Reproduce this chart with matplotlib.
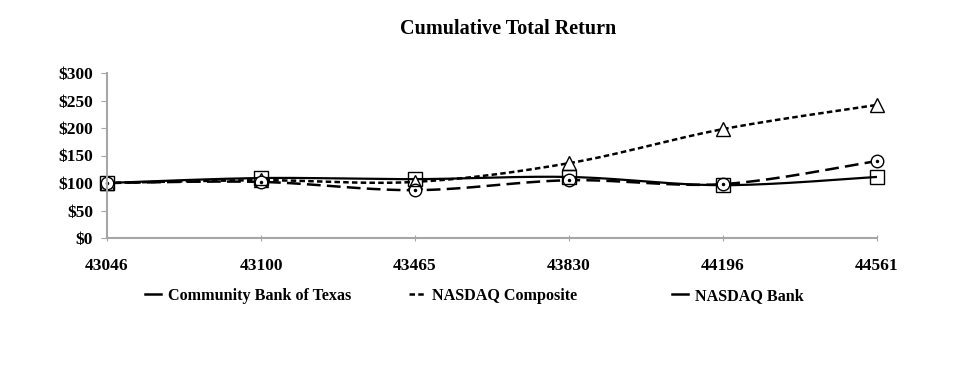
import numpy as np
import matplotlib
matplotlib.use('Agg')
from matplotlib import pyplot as plt
from matplotlib.lines import Line2D

dates = ['43046', '43100', '43465', '43830', '44196', '44561']
cbtx = [100, 109, 107, 111, 96, 111]
nasdaq_comp = [100, 105, 102, 136, 198, 242]
nasdaq_bank = [100, 102, 87, 105, 98, 140]
yticks = [0, 50, 100, 150, 200, 250, 300]
labels = ['Community Bank of Texas', 'NASDAQ Composite', 'NASDAQ Bank']

plt.rcParams['font.family'] = ['Liberation Serif', 'DejaVu Serif']
plt.rcParams['font.weight'] = 'bold'


def smooth(ys, n=30):
    # catmull-rom through the points, like excel's smoothed line
    xs = np.arange(len(ys), dtype=float)
    pts = np.column_stack([xs, ys])
    pts = np.vstack([pts[0], pts, pts[-1]])
    out = []
    for i in range(1, len(pts) - 2):
        p0, p1, p2, p3 = pts[i - 1], pts[i], pts[i + 1], pts[i + 2]
        t = np.linspace(0, 1, n)[:, None]
        c = 0.5 * ((2 * p1) + (-p0 + p2) * t + (2 * p0 - 5 * p1 + 4 * p2 - p3) * t ** 2
                   + (-p0 + 3 * p1 - 3 * p2 + p3) * t ** 3)
        out.append(c)
    c = np.vstack(out)
    return c[:, 0], c[:, 1]


fig = plt.figure(figsize=(9.71, 3.83), dpi=100)
ax = fig.add_axes([107 / 971, 1 - 238 / 383, 770 / 971, 165 / 383])
x = np.arange(len(dates))

grey = '#a6a6a6'
sx, sy = smooth(nasdaq_comp)
ax.plot(sx, sy, color='black', lw=1.8, dashes=(2.2, 1.3))
sx, sy = smooth(nasdaq_bank)
ax.plot(sx, sy, color='black', lw=1.8, dashes=(5.5, 2.5))
sx, sy = smooth(cbtx)
ax.plot(sx, sy, color='black', lw=1.6)

ax.plot(x, nasdaq_comp, ls='none', marker='^', ms=10, mfc='white', mec='black', mew=1.0, clip_on=False)
ax.plot(x, nasdaq_bank, ls='none', marker='o', ms=9, mfc='white', mec='black', mew=1.0, clip_on=False)
ax.plot(x, nasdaq_bank, ls='none', marker='o', ms=1.5, mfc='black', mec='black', clip_on=False)
ax.plot(x, cbtx, ls='none', marker='s', ms=10, mfc='none', mec='black', mew=1.0, clip_on=False)

ax.set_xlim(0, len(dates) - 1)
ax.set_ylim(0, 300)
ax.set_xticks(x)
ax.set_xticklabels(dates, fontsize=12.5, fontweight='bold')
ax.set_yticks(yticks)
ax.set_yticklabels(['$%d' % v for v in yticks], fontsize=12.5, fontweight='bold')
ax.tick_params(axis='x', length=5, color=grey, pad=12, direction='inout')
ax.tick_params(axis='y', length=4, color=grey, pad=6)
for s in ['top', 'right']:
    ax.spines[s].set_visible(False)
for s in ['left', 'bottom']:
    ax.spines[s].set_color(grey)
    ax.spines[s].set_linewidth(1.5)

fig.text(508 / 971, 1 - 29 / 383, 'Cumulative Total Return', ha='center', va='center',
         fontsize=14.5, fontweight='bold')

# legend entries are not evenly spaced in the original, so one legend per entry
handles = [Line2D([], [], color='black', lw=1.8),
           Line2D([], [], color='black', lw=1.8, dashes=(2.2, 1.3)),
           Line2D([], [], color='black', lw=1.8)]
legend_x = [145, 409, 672]
for h, lab, lx in zip(handles, labels, legend_x):
    fig.legend([h], [lab], loc='center left', bbox_to_anchor=(lx / 971, 1 - 296 / 383),
               frameon=False, handlelength=1.0, handletextpad=0.4, borderpad=0,
               borderaxespad=0, prop={'size': 11.6, 'weight': 'bold'})

fig.savefig('out.png', dpi=100)
